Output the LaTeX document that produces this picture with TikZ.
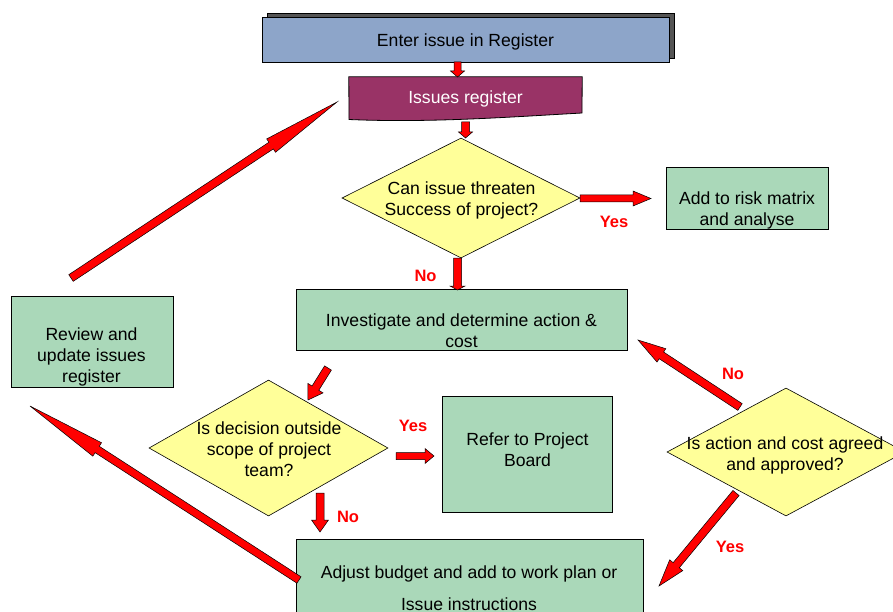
\documentclass[tikz,border=0pt]{standalone}
\usepackage{fontspec}
\setmainfont{Liberation Sans}
\usetikzlibrary{shapes.geometric,calc,shadows}
\definecolor{boxgreen}{RGB}{170,216,185}
\definecolor{diayellow}{RGB}{255,255,153}
\definecolor{enterblue}{RGB}{141,165,201}
\definecolor{regplum}{RGB}{153,51,102}
\definecolor{shadowgray}{RGB}{85,85,85}
\definecolor{arrred}{RGB}{255,0,0}
\definecolor{lblred}{RGB}{255,0,0}
\tikzset{
  box/.style={draw=black, line width=0.8pt, fill=boxgreen, inner sep=0pt},
  dia/.style={diamond, draw=black, line width=0.6pt, fill=diayellow, inner sep=0pt},
  txt/.style={align=center, font=\fontsize{17.6}{21}\selectfont, inner sep=0pt},
  lbl/.style={font=\fontsize{16.5}{20}\selectfont\bfseries, text=lblred, inner sep=0pt},
  barrow/.style={draw=black, line width=0.5pt, fill=arrred, line join=miter},
}
% #1 tail, #2 tip, #3 shaft half width, #4 head half width, #5 head length
\newcommand{\blockarr}[5]{%
  \path (#2) coordinate (baB) ($(#2)!#5!(#1)$) coordinate (baH);
  \draw[barrow] ($(#1)!#3!90:(baB)$) -- ($(baH)!#3!90:(baB)$) -- ($(baH)!#4!90:(baB)$)
    -- (baB) -- ($(baH)!#4!-90:(baB)$) -- ($(baH)!#3!-90:(baB)$) -- ($(#1)!#3!-90:(baB)$) -- cycle;}
\begin{document}
\begin{tikzpicture}[x=1pt, y=-1pt]
\useasboundingbox (0,0) rectangle (893,612);

% Nodes
\node[box, fill=enterblue, minimum width=407pt, minimum height=45pt,
  general shadow={fill=shadowgray, draw=black, line width=0.8pt, shadow xshift=5pt, shadow yshift=4pt}]
  (enter) at (465.5,39.5) {};
\node[txt] at (465.5,41.5) {Enter issue in Register};

\path node[minimum width=233pt, minimum height=42pt, inner sep=0pt] (reg) at (465.5,98) {};
\draw[line width=0.8pt, fill=regplum] (reg.north west) -- (reg.north east) -- (582,113)
  .. controls (510,117) and (430,123) .. (349,119.5) -- cycle;
\node[txt, text=white] at (465.5,98.5) {Issues register};

\node[dia, minimum width=238pt, minimum height=120pt] (d1) at (461,198) {};
\node[txt] at (461.5,200) {Can issue threaten\\Success of project?};

\node[box, minimum width=162pt, minimum height=62pt] (risk) at (747,198) {};
\node[txt] at (747,210.5) {Add to risk matrix\\and analyse};

\node[box, minimum width=331pt, minimum height=61pt] (inv) at (461.5,319.5) {};
\node[txt] at (461.5,330.5) {Investigate and determine action \&\\cost};

\node[box, minimum width=162pt, minimum height=91pt] (review) at (92,341.5) {};
\node[txt] at (91.5,357) {Review and\\update issues\\register};

\node[dia, minimum width=239pt, minimum height=136pt] (d2) at (268.5,448) {};
\node[txt] at (269,449.5) {Is decision outside\\scope of project\\team?};

\node[box, minimum width=170pt, minimum height=116pt] (refer) at (527,454) {};
\node[txt] at (527.5,450) {Refer to Project\\Board};

\node[dia, minimum width=238pt, minimum height=128pt] (d3) at (786,452) {};
\node[txt] at (785,455) {Is action and cost agreed\\and approved?};

\node[box, minimum width=347pt, minimum height=74pt] (adjust) at (469.5,576) {};
\node[txt] at (469,588) {Adjust budget and add to work plan or\\[11.5pt]Issue instructions};

% Arrow end points
\coordinate (a1t) at (457.5,62);  \coordinate (a1h) at (457.5,77);
\coordinate (a2t) at (465.5,122); \coordinate (a2h) at (465.5,138);
\coordinate (a3t) at (580,198.5); \coordinate (a3h) at (651,198.5);
\coordinate (a4t) at (457.5,258); \coordinate (a4h) at (457.5,290);
\coordinate (a5t) at (328,368);   \coordinate (a5h) at (308,400);
\coordinate (a6t) at (396,456);   \coordinate (a6h) at (434,456);
\coordinate (a7t) at (320,493);   \coordinate (a7h) at (320,532);
\coordinate (a8t) at (740,407);   \coordinate (a8h) at (638,340);
\coordinate (a9t) at (736,493);   \coordinate (a9h) at (659,586);
\coordinate (a10t) at (299,580);  \coordinate (a10h) at (30,406);
\coordinate (a11t) at (71,278);   \coordinate (a11h) at (337,102);

\blockarr{a1t}{a1h}{3.5pt}{7pt}{6pt}
\blockarr{a2t}{a2h}{4pt}{7pt}{6pt}
\blockarr{a3t}{a3h}{3.5pt}{7.5pt}{18pt}
\blockarr{a4t}{a4h}{4pt}{7.5pt}{4pt}
\blockarr{a5t}{a5h}{4pt}{9pt}{14pt}
\blockarr{a6t}{a6h}{3.5pt}{7.5pt}{9pt}
\blockarr{a7t}{a7h}{4pt}{8.5pt}{12pt}
\blockarr{a8t}{a8h}{4pt}{8pt}{28pt}
\blockarr{a9t}{a9h}{4pt}{8.5pt}{27pt}
\blockarr{a10t}{a10h}{3.8pt}{8pt}{80pt}
\blockarr{a11t}{a11h}{4pt}{8pt}{79pt}

% Labels
\node[lbl] (yes1) at (614,222) {Yes};
\node[lbl] (no1) at (425.5,275.5) {No};
\node[lbl] (yes2) at (413,426) {Yes};
\node[lbl] (no2) at (348,517) {No};
\node[lbl] (no3) at (733,373.5) {No};
\node[lbl] (yes3) at (730,547) {Yes};
\end{tikzpicture}
\end{document}
